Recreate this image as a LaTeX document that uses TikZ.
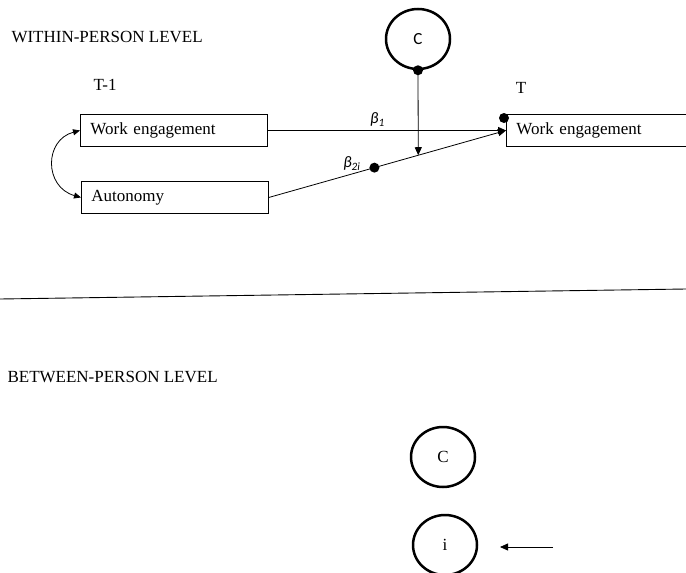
\documentclass[tikz,border=0pt]{standalone}
\usepackage{fontspec}
\setmainfont{Liberation Serif}
\newfontfamily\calfont{Carlito}
\usetikzlibrary{arrows.meta,calc,shapes.geometric}

\begin{document}
\begin{tikzpicture}[x=1pt,y=-1pt,
    font=\fontsize{17}{20}\selectfont,
    box/.style={draw,line width=0.9pt,minimum height=32pt,text width=167pt,
      inner xsep=10pt,align=left,anchor=north west},
    ring/.style={ellipse,draw,line width=2.5pt,minimum width=64pt,minimum height=60pt,inner sep=0pt},
    dot/.style={circle,fill,inner sep=0pt,minimum size=10pt},
    arr/.style={-{Triangle[length=8pt,width=7pt]},line width=0.8pt},
    beta/.style={font=\fontsize{16}{18}\calfont\itshape}]
  \useasboundingbox (0,0) rectangle (686,573);
  % within-person level
  \node[anchor=west] (within) at (8,37) {WITHIN-PERSON LEVEL};
  \node (T1) at (105,85) {T-1};
  \node (T) at (521,88) {T};
  \node[box] (WE1) at (80,114) {Work engagement};
  \node[box] (AU) at (81,181) {Autonomy};
  \node[box,text width=180pt] (WE2) at (506,114) {Work engagement};
  \node[ring] (C1) at (418,39) {\calfont C};
  \node[dot] (d1) at (C1.south) {};
  \node[dot] (d3) at ($(WE2.north west)+(-2,4)$) {};
  \draw[{Triangle[length=7pt,width=6pt]}-{Triangle[length=7pt,width=6pt]},line width=0.8pt]
    (WE1.west) .. controls (44,140) and (44,187) .. (AU.west);
  \draw[arr] (WE1.east) -- (WE2.west) node[pos=0.46,above,beta] {β\textsubscript{1}};
  \draw[arr] (AU.east) -- (WE2.west) coordinate[pos=0.63] (m)
    node[pos=0.445,dot] (d2) {} node[pos=0.35,above,beta] {β\textsubscript{2i}};
  \draw[arr] (d1.center) -- (m);
  % separator
  \draw[line width=0.9pt] (0,299) -- (686,289);
  % between-person level
  \node[anchor=west] (between) at (4,377) {BETWEEN-PERSON LEVEL};
  \node[ring] (C2) at (443,457) {C};
  \node[ring] (I) at (445,545) {i};
  \coordinate (aS) at (553,547);
  \coordinate (aE) at (500,547);
  \draw[arr] (aS) -- (aE);
\end{tikzpicture}
\end{document}
